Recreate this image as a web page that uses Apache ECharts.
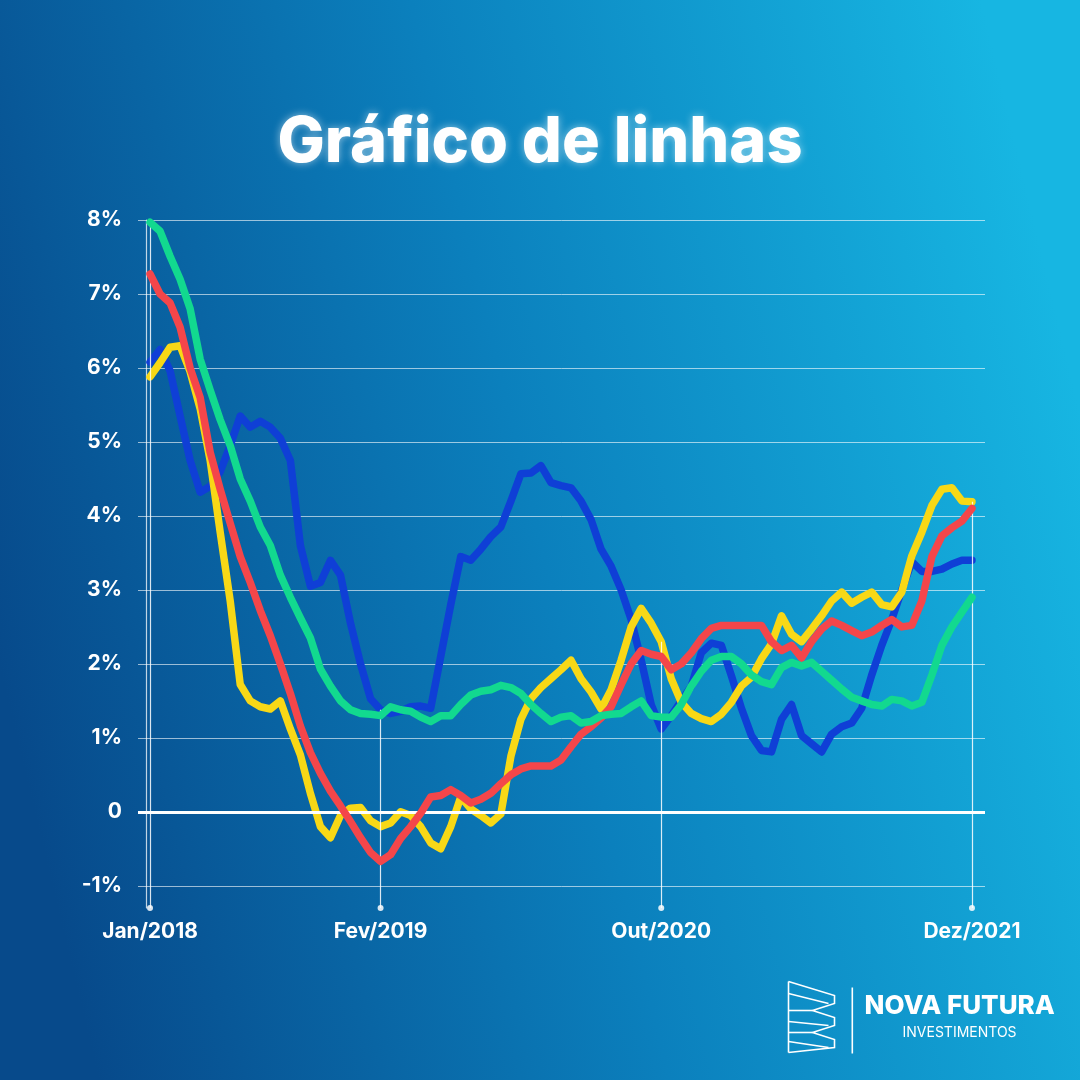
<!DOCTYPE html>
<html>
<head>
<meta charset="utf-8">
<script src="https://cdn.jsdelivr.net/npm/echarts@6/dist/echarts.min.js"></script>
<style>
html,body{margin:0;padding:0;width:1080px;height:1080px;overflow:hidden;}
#c{width:1080px;height:1080px;}
</style>
</head>
<body>
<div id="c"></div>
<script>
// ---- data ----
const xLabels = ['Jan/2018', 'Fev/2019', 'Out/2020', 'Dez/2021'];
const xLabelIdx = [0, 23, 51, 82];
const yTicks = [-1, 0, 1, 2, 3, 4, 5, 6, 7, 8];
const seriesNames = ['Azul', 'Amarelo', 'Vermelho', 'Verde'];

const blue = [6.08, 6.25, 5.96, 5.35, 4.75, 4.32, 4.4, 4.6, 4.95, 5.35,
  5.2, 5.28, 5.2, 5.05, 4.75, 3.6, 3.05, 3.1, 3.4, 3.2,
  2.55, 2.0, 1.53, 1.38, 1.33, 1.36, 1.42, 1.43, 1.4, 2.1,
  2.8, 3.45, 3.4, 3.55, 3.72, 3.85, 4.2, 4.57, 4.58, 4.68,
  4.45, 4.41, 4.38, 4.2, 3.95, 3.55, 3.32, 3.0, 2.6, 2.05,
  1.45, 1.12, 1.3, 1.5, 1.7, 2.15, 2.28, 2.25, 1.84, 1.4,
  1.03, 0.83, 0.81, 1.25, 1.45, 1.03, 0.92, 0.81, 1.05, 1.15,
  1.2, 1.4, 1.85, 2.25, 2.6, 3.0, 3.38, 3.25, 3.25, 3.28,
  3.35, 3.4, 3.4];
const yellow = [5.88, 6.07, 6.28, 6.3, 5.95, 5.45, 4.75, 3.78, 2.85, 1.72,
  1.5, 1.42, 1.39, 1.5, 1.12, 0.77, 0.25, -0.2, -0.35, -0.05,
  0.05, 0.06, -0.12, -0.2, -0.15, 0.0, -0.05, -0.2, -0.42, -0.5,
  -0.2, 0.2, 0.04, -0.05, -0.15, -0.03, 0.75, 1.25, 1.53, 1.68,
  1.8, 1.92, 2.05, 1.8, 1.62, 1.39, 1.65, 2.05, 2.5, 2.75,
  2.55, 2.3, 1.8, 1.48, 1.33, 1.26, 1.22, 1.32, 1.48, 1.7,
  1.82, 2.07, 2.27, 2.65, 2.4, 2.3, 2.47, 2.65, 2.85, 2.97,
  2.82, 2.9, 2.97, 2.8, 2.77, 2.97, 3.46, 3.78, 4.14, 4.36,
  4.38, 4.2, 4.19];
const red = [7.27, 7.0, 6.88, 6.55, 6.0, 5.6, 4.86, 4.36, 3.9, 3.45,
  3.1, 2.72, 2.38, 2.0, 1.6, 1.16, 0.8, 0.52, 0.28, 0.08,
  -0.13, -0.35, -0.55, -0.67, -0.58, -0.36, -0.2, -0.02, 0.2, 0.22,
  0.3, 0.22, 0.12, 0.17, 0.25, 0.38, 0.5, 0.58, 0.62, 0.62,
  0.62, 0.7, 0.88, 1.05, 1.15, 1.27, 1.42, 1.72, 2.0, 2.18,
  2.13, 2.1, 1.92, 2.0, 2.15, 2.34, 2.48, 2.52, 2.52, 2.52,
  2.52, 2.52, 2.3, 2.18, 2.25, 2.08, 2.3, 2.47, 2.58, 2.52,
  2.45, 2.38, 2.43, 2.52, 2.6, 2.5, 2.52, 2.85, 3.45, 3.73,
  3.84, 3.93, 4.1];
const green = [7.97, 7.85, 7.51, 7.2, 6.8, 6.12, 5.7, 5.3, 4.95, 4.5,
  4.2, 3.85, 3.6, 3.2, 2.9, 2.62, 2.35, 1.93, 1.7, 1.5,
  1.38, 1.33, 1.32, 1.3, 1.42, 1.38, 1.36, 1.28, 1.22, 1.3,
  1.3, 1.45, 1.58, 1.63, 1.65, 1.71, 1.68, 1.6, 1.45, 1.33,
  1.22, 1.28, 1.3, 1.2, 1.22, 1.3, 1.32, 1.33, 1.42, 1.5,
  1.3, 1.28, 1.28, 1.45, 1.7, 1.9, 2.05, 2.1, 2.1, 2.0,
  1.85, 1.76, 1.72, 1.95, 2.02, 1.97, 2.02, 1.9, 1.78, 1.66,
  1.55, 1.5, 1.45, 1.43, 1.52, 1.5, 1.43, 1.48, 1.85, 2.25,
  2.5, 2.7, 2.9];

const Y_MIN = -1.3, Y_MAX = 8;
const allSeries = [blue, yellow, red, green];
const colors = ['#0f3fd6', '#f8d816', '#f4464a', '#12d98f'];

const FONT = 'Inter, "Open Sans", sans-serif';
const pairs = arr => arr.map((v, i) => [i, v]);
const maxAt = i => Math.max(...allSeries.map(s => s[i]));

const dropLines = xLabelIdx.map(i => [
  { coord: [i, Y_MIN], symbol: 'circle', symbolSize: 6 },
  { coord: [i, maxAt(i)], symbol: 'none' }
]);

const chart = echarts.init(document.getElementById('c'), null, { renderer: 'canvas' });

const series = allSeries.map((arr, k) => ({
  name: seriesNames[k],
  type: 'line',
  data: pairs(arr),
  showSymbol: false,
  symbol: 'none',
  smooth: false,
  z: 3 + k,
  lineStyle: { color: colors[k], width: 7.5, cap: 'round', join: 'round' },
  silent: true,
  animation: false
}));

series[0].markLine = {
  silent: true,
  animation: false,
  symbol: ['none', 'none'],
  label: { show: false },
  data: [
    ...dropLines.map(d => [d[0], d[1]]),
    [{ coord: [-1.2, 0], symbol: 'none' }, { coord: [83.3, 0], symbol: 'none' }]
  ].map((d, j) => {
    const isZero = j === dropLines.length;
    d[0].lineStyle = isZero
      ? { color: '#ffffff', width: 3, type: 'solid', opacity: 1 }
      : { color: 'rgba(255,255,255,0.85)', width: 1.2, type: 'solid' };
    d[0].itemStyle = { color: '#ffffff' };
    return d;
  })
};

const option = {
  animation: false,
  backgroundColor: {
    type: 'linear', x: 0, y: 0.62, x2: 1, y2: 0.38,
    colorStops: [
      { offset: 0, color: '#074a8b' },
      { offset: 0.5, color: '#0b80bd' },
      { offset: 1, color: '#17b6e2' }
    ]
  },
  title: {
    text: 'Gráfico de linhas',
    left: 'center',
    top: 107,
    textStyle: {
      color: '#ffffff', fontSize: 63, fontWeight: 800, fontFamily: FONT,
      textShadowColor: 'rgba(255,255,255,0.55)', textShadowBlur: 8
    }
  },
  grid: { left: 138, right: 95, top: 220, bottom: 172, containLabel: false },
  xAxis: {
    type: 'value',
    min: -1.2,
    max: 83.3,
    axisLine: { show: false },
    axisTick: { show: false, customValues: xLabelIdx },
    splitLine: { show: false },
    axisLabel: {
      customValues: xLabelIdx,
      formatter: v => xLabels[xLabelIdx.indexOf(Math.round(v))] || '',
      color: '#ffffff', fontSize: 21, fontWeight: 700, fontFamily: FONT,
      margin: 13
    }
  },
  yAxis: {
    type: 'value',
    min: Y_MIN,
    max: Y_MAX,
    offset: -8,
    axisLine: { show: true, onZero: false, lineStyle: { color: 'rgba(255,255,255,0.75)', width: 1.2 } },
    axisTick: { show: false, customValues: yTicks },
    axisLabel: {
      customValues: yTicks,
      formatter: v => (v === 0 ? '0' : v + '%'),
      color: '#ffffff', fontSize: 21, fontWeight: 700, fontFamily: FONT,
      margin: 24
    },
    splitLine: { show: true, lineStyle: { color: 'rgba(255,255,255,0.6)', width: 1 } }
  },
  series: series,
  graphic: [
    {
      type: 'group', left: 786, top: 979, silent: true,
      children: [
        { type: 'polyline', shape: { points: [[0, 0], [0, 71]] }, style: { stroke: '#fff', lineWidth: 1.6, fill: null } },
        { type: 'polyline', shape: { points: [[0, 0], [46, 14], [46, 22], [24, 29], [46, 36], [46, 44], [24, 51], [46, 58], [46, 66], [0, 71]] }, style: { stroke: '#fff', lineWidth: 1.6, fill: null } },
        { type: 'polyline', shape: { points: [[0, 12], [40, 22]] }, style: { stroke: '#fff', lineWidth: 1.6, fill: null } },
        { type: 'polyline', shape: { points: [[0, 29], [24, 29]] }, style: { stroke: '#fff', lineWidth: 1.6, fill: null } },
        { type: 'polyline', shape: { points: [[0, 40], [40, 44]] }, style: { stroke: '#fff', lineWidth: 1.6, fill: null } },
        { type: 'polyline', shape: { points: [[0, 51], [24, 51]] }, style: { stroke: '#fff', lineWidth: 1.6, fill: null } },
        { type: 'polyline', shape: { points: [[0, 60], [40, 66]] }, style: { stroke: '#fff', lineWidth: 1.6, fill: null } },
        { type: 'rect', shape: { x: 63, y: 6, width: 1.6, height: 66 }, style: { fill: '#fff' } },
        { type: 'text', x: 76, y: 12, style: { text: 'NOVA FUTURA', fill: '#fff', font: '800 26px ' + FONT } },
        { type: 'text', x: 114, y: 44, style: { text: 'INVESTIMENTOS', fill: '#fff', font: '400 14px ' + FONT } }
      ]
    }
  ]
};

chart.setOption(option);
</script>
</body>
</html>
